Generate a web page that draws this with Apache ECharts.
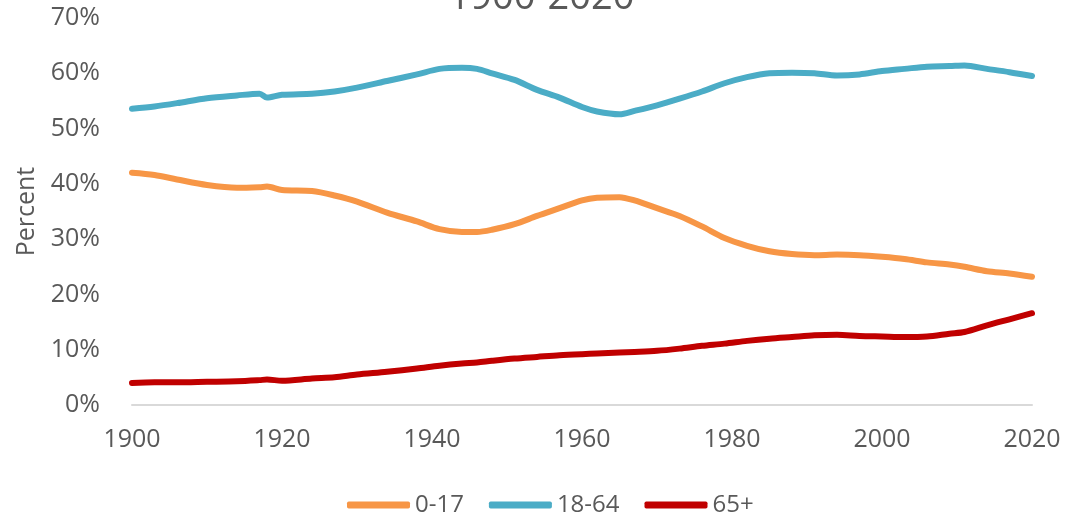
<!DOCTYPE html>
<html>
<head>
<meta charset="utf-8">
<title>Population by age group 1900-2020</title>
<script src="https://cdn.jsdelivr.net/npm/echarts@6/dist/echarts.min.js"></script>
<style>
  html, body { margin: 0; padding: 0; background: #fff; }
  #chart { width: 1083px; height: 513px; }
</style>
</head>
<body>
<div id="chart"></div>
<script>
  // values, in percent
  var years = [1900, 1903, 1906, 1910, 1914, 1917, 1918, 1920, 1924, 1927, 1930, 1934, 1938, 1941,
    1944, 1946, 1948, 1951, 1954, 1957, 1960, 1962, 1965, 1967, 1970, 1973, 1976, 1979, 1982,
    1985, 1988, 1991, 1994, 1997, 2000, 2003, 2006, 2009, 2011, 2014, 2017, 2020];

  var age0to17 = [42.0, 41.6, 40.8, 39.8, 39.3, 39.4, 39.5, 38.9, 38.7, 37.9, 36.8, 34.8, 33.2, 31.8,
    31.3, 31.3, 31.7, 32.7, 34.2, 35.6, 37.0, 37.5, 37.6, 37.0, 35.6, 34.2, 32.3, 30.2, 28.8,
    27.8, 27.3, 27.1, 27.2, 27.1, 26.8, 26.4, 25.8, 25.4, 25.0, 24.2, 23.8, 23.2];

  var age18to64 = [53.6, 54.0, 54.6, 55.5, 56.0, 56.3, 55.6, 56.1, 56.3, 56.7, 57.4, 58.6, 59.8, 60.8,
    61.0, 60.8, 60.0, 58.8, 57.0, 55.6, 53.9, 53.1, 52.6, 53.2, 54.2, 55.4, 56.7, 58.2, 59.3,
    60.0, 60.1, 60.0, 59.6, 59.8, 60.4, 60.8, 61.2, 61.3, 61.4, 60.8, 60.2, 59.5];

  var age65plus = [4.0, 4.1, 4.1, 4.2, 4.3, 4.5, 4.6, 4.4, 4.8, 5.0, 5.5, 6.0, 6.6, 7.1,
    7.5, 7.7, 8.0, 8.4, 8.7, 9.0, 9.2, 9.3, 9.5, 9.6, 9.8, 10.2, 10.7, 11.1, 11.6,
    12.0, 12.3, 12.6, 12.7, 12.5, 12.4, 12.3, 12.4, 12.9, 13.2, 14.4, 15.5, 16.6];

  var seriesNames = ['0-17', '18-64', '65+'];
  var seriesColors = ['#F79646', '#4BACC6', '#C00000'];

  function pairs(vals) {
    return years.map(function (y, i) { return [y, vals[i]]; });
  }

  var txt = '#595959';
  var font = '"Open Sans", "Noto Sans", sans-serif';

  var myChart = echarts.init(document.getElementById('chart'));
  myChart.setOption({
    animation: false,
    title: {
      text: '1900-2020',
      left: 'center',
      top: -21,
      padding: 0,
      textStyle: { color: txt, fontSize: 38, fontWeight: 'normal', fontFamily: font }
    },
    legend: {
      top: 488,
      left: 342,
      icon: 'roundRect',
      itemWidth: 63,
      itemHeight: 7,
      itemGap: 25,
      textStyle: { color: txt, fontSize: 24, fontFamily: font },
      data: seriesNames
    },
    grid: { left: 132, right: 51, top: 18, bottom: 108 },
    xAxis: {
      type: 'value',
      min: 1900,
      max: 2020,
      interval: 20,
      axisLine: { show: true, lineStyle: { color: '#D9D9D9', width: 2 } },
      axisTick: { show: false },
      splitLine: { show: false },
      axisLabel: {
        color: txt, fontSize: 25, fontFamily: font, margin: 22,
        formatter: function (v) { return String(v); }
      }
    },
    yAxis: {
      type: 'value',
      min: 0,
      max: 70,
      interval: 10,
      name: 'Percent',
      nameLocation: 'middle',
      nameRotate: 90,
      nameGap: 90,
      nameTextStyle: { color: txt, fontSize: 25, fontFamily: font },
      axisLine: { show: false },
      axisTick: { show: false },
      splitLine: { show: false },
      axisLabel: { color: txt, fontSize: 25, fontFamily: font, margin: 32, formatter: '{value}%' }
    },
    series: [
      {
        name: seriesNames[0], type: 'line', data: pairs(age0to17), showSymbol: false, smooth: 0.3,
        lineStyle: { color: seriesColors[0], width: 6, cap: 'round', join: 'round' },
        itemStyle: { color: seriesColors[0] }
      },
      {
        name: seriesNames[1], type: 'line', data: pairs(age18to64), showSymbol: false, smooth: 0.3,
        lineStyle: { color: seriesColors[1], width: 6, cap: 'round', join: 'round' },
        itemStyle: { color: seriesColors[1] }
      },
      {
        name: seriesNames[2], type: 'line', data: pairs(age65plus), showSymbol: false, smooth: 0.3,
        lineStyle: { color: seriesColors[2], width: 6, cap: 'round', join: 'round' },
        itemStyle: { color: seriesColors[2] }
      }
    ]
  });
</script>
</body>
</html>
